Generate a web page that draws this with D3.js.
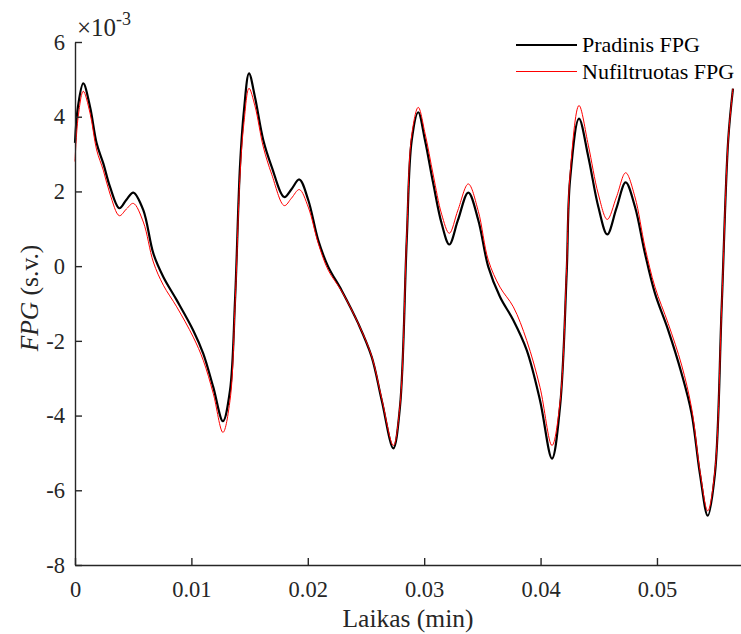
<!DOCTYPE html>
<html>
<head>
<meta charset="utf-8">
<script src="https://cdn.jsdelivr.net/npm/d3@7"></script>
<style>
  body { margin: 0; background: #fff; }
  svg text { font-family: "Liberation Serif", "Times New Roman", serif; }
</style>
</head>
<body>
<svg width="741" height="634"></svg>
<script>
// laikas (min)
const time = [
  0, 0.00026, 0.00071, 0.00129, 0.00186, 0.00243, 0.00301, 0.00381, 0.00442, 0.00501,
  0.00587, 0.00673, 0.00759, 0.00874, 0.01016, 0.01102, 0.01188, 0.01271, 0.01332, 0.01375,
  0.01418, 0.01452, 0.01495, 0.01546, 0.01618, 0.01690, 0.01798, 0.01860, 0.01927, 0.02004,
  0.02090, 0.02176, 0.02291, 0.02434, 0.02549, 0.02635, 0.02735, 0.02792, 0.02850, 0.02893,
  0.02949, 0.03007, 0.03078, 0.03150, 0.03216, 0.03290, 0.03379, 0.03465, 0.03551, 0.03651,
  0.03766, 0.03881, 0.03995, 0.04098, 0.04167, 0.04224, 0.04253, 0.04330, 0.04410, 0.04496,
  0.04573, 0.04652, 0.04731, 0.04811, 0.04897, 0.04983, 0.05097, 0.05212, 0.05298, 0.05369,
  0.05436, 0.05498, 0.05556, 0.05612, 0.05653
];

// Pradinis FPG (x 10^-3)
const rawFpg = [
  3.30, 4.28, 4.89, 4.27, 3.29, 2.75, 2.12, 1.55, 1.78, 1.97,
  1.50, 0.34, -0.29, -0.91, -1.72, -2.34, -3.24, -4.15, -3.32, -0.91,
  2.70, 4.18, 5.16, 4.53, 3.37, 2.66, 1.85, 2.06, 2.32, 1.77,
  0.69, -0.02, -0.65, -1.54, -2.43, -3.59, -4.88, -3.77, 0.69, 3.37,
  4.12, 3.37, 2.21, 1.14, 0.58, 1.23, 1.97, 1.23, -0.02, -0.82,
  -1.45, -2.25, -3.59, -5.15, -3.77, -0.20, 2.30, 3.95, 2.93, 1.59,
  0.85, 1.55, 2.24, 1.59, 0.34, -0.73, -1.72, -2.88, -3.95, -5.56,
  -6.68, -5.56, -1.09, 3.37, 4.75
];

// Nufiltruotas FPG (x 10^-3)
const filtFpg = [
  2.80, 3.96, 4.68, 4.10, 3.11, 2.57, 1.93, 1.35, 1.53, 1.68,
  1.18, 0.11, -0.51, -1.09, -1.90, -2.52, -3.41, -4.45, -3.59, -1.05,
  2.45, 3.85, 4.76, 4.29, 3.19, 2.46, 1.62, 1.82, 2.05, 1.58,
  0.61, -0.11, -0.67, -1.54, -2.41, -3.54, -4.80, -3.73, 0.80, 3.51,
  4.25, 3.56, 2.44, 1.39, 0.88, 1.50, 2.20, 1.47, 0.16, -0.56,
  -1.09, -1.99, -3.24, -4.80, -3.65, -0.06, 2.44, 4.30, 3.24, 1.93,
  1.25, 1.85, 2.50, 1.85, 0.51, -0.56, -1.54, -2.65, -3.81, -5.47,
  -6.55, -5.47, -1.09, 3.37, 4.75
];

const xTicks = [0, 0.01, 0.02, 0.03, 0.04, 0.05];
const yTicks = [-8, -6, -4, -2, 0, 2, 4, 6];
const seriesNames = ['Pradinis FPG', 'Nufiltruotas FPG'];

const plotLeft = 75, plotRight = 741, plotTop = 42, plotBottom = 565;
const axisColor = '#262626';
const serif = '"Liberation Serif", "Times New Roman", serif';

const svg = d3.select('svg');

const x = d3.scaleLinear().domain([0, 0.05722]).range([plotLeft, plotRight]);
const y = d3.scaleLinear().domain([-8, 6]).range([plotBottom, plotTop]);

// lines
const line = d3.line()
    .x((d, i) => x(time[i]))
    .y(d => y(d))
    .curve(d3.curveCatmullRom.alpha(0.5));

svg.append('path')
    .datum(rawFpg)
    .attr('fill', 'none')
    .attr('stroke', '#000')
    .attr('stroke-width', 2.2)
    .attr('d', line);

svg.append('path')
    .datum(filtFpg)
    .attr('fill', 'none')
    .attr('stroke', '#ff0000')
    .attr('stroke-width', 1)
    .attr('d', line);

const xAxis = svg.append('g')
    .attr('transform', 'translate(0,' + plotBottom + ')')
    .call(d3.axisBottom(x).tickValues(xTicks).tickFormat(d => String(d))
      .tickSize(-7).tickSizeOuter(0).tickPadding(16));

const yAxis = svg.append('g')
    .attr('transform', 'translate(' + plotLeft + ',0)')
    .call(d3.axisLeft(y).tickValues(yTicks).tickFormat(d => String(d))
      .tickSize(-7).tickSizeOuter(0).tickPadding(10));

[xAxis, yAxis].forEach(a => {
  a.attr('font-family', serif).attr('font-size', 22.5);
  a.select('.domain').attr('stroke', axisColor).attr('stroke-width', 1.4);
  a.selectAll('.tick line').attr('stroke', axisColor).attr('stroke-width', 1.4);
  a.selectAll('.tick text').attr('fill', axisColor);
});

// exponent
const expo = svg.append('text')
    .attr('x', 77).attr('y', 36)
    .attr('font-family', serif)
    .attr('fill', axisColor).attr('font-size', 25);
expo.append('tspan').text('\u00d710');
expo.append('tspan').attr('dy', -11).attr('font-size', 18).text('-3');

// axis labels
svg.append('text')
    .attr('x', (plotLeft + plotRight) / 2).attr('y', 627)
    .attr('text-anchor', 'middle').attr('fill', axisColor)
    .attr('font-family', serif)
    .attr('font-size', 25.5)
    .text('Laikas (min)');

const yl = svg.append('text')
    .attr('transform', 'translate(38,298) rotate(-90)')
    .attr('text-anchor', 'middle').attr('fill', axisColor)
    .attr('font-family', serif)
    .attr('font-size', 25.5);
yl.append('tspan').attr('font-style', 'italic').text('FPG');
yl.append('tspan').text(' (s.v.)');

// legend
const legend = svg.append('g');
const legendColors = ['#000', '#ff0000'];
const legendWidths = [2.2, 1];
seriesNames.forEach((name, i) => {
  const ly = 45 + i * 26.5;
  legend.append('line')
      .attr('x1', 516).attr('x2', 577)
      .attr('y1', ly).attr('y2', ly)
      .attr('stroke', legendColors[i])
      .attr('stroke-width', legendWidths[i]);
  legend.append('text')
      .attr('x', 582).attr('y', ly + 7)
      .attr('font-family', serif)
      .attr('font-size', 22)
      .attr('fill', '#000')
      .text(name);
});
</script>
</body>
</html>
